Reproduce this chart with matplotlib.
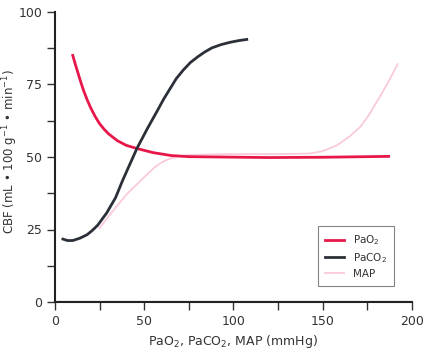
import matplotlib
matplotlib.use("Agg")
import matplotlib.pyplot as plt

# values
pao2_x = [10, 11.5, 13, 14.5, 16, 18, 20, 22.5, 25, 27.5, 30, 35, 40, 46, 55, 65, 75, 90, 120, 150, 187]
pao2_y = [85, 81.8, 78.8, 75.8, 73, 69.8, 67, 64, 61.5, 59.6, 58, 55.6, 54, 52.9, 51.5, 50.5, 50.1, 50, 49.8, 49.9, 50.2]

paco2_x = [4.5, 7, 10, 14, 18, 21, 24, 29, 34, 38, 42, 46, 52, 57, 61, 64, 68, 72, 76, 80, 84, 88, 93, 98, 103, 107.5]
paco2_y = [21.7, 21.2, 21.2, 22, 23.2, 24.7, 26.5, 30.7, 36, 42, 47.5, 53, 60, 65.5, 70, 73, 77, 80, 82.6, 84.5, 86.2, 87.6, 88.7, 89.5, 90.1, 90.5]

map_x = [25, 30, 40, 50, 56, 59, 62, 65, 68, 75, 100, 130, 143, 150, 158, 165, 171, 176, 182, 187, 192]
map_y = [25.5, 29.5, 37, 43, 46.5, 47.8, 48.8, 49.5, 50, 50.7, 51, 51, 51.2, 52, 54, 57, 60.3, 64.5, 70.7, 76, 82]

fig = plt.figure(figsize=(4.29, 3.6), dpi=100)
ax = fig.add_axes([0.128, 0.161, 0.832, 0.806])

ax.plot(map_x, map_y, color="#f9cadc", lw=1.3, label="MAP", zorder=2)
ax.plot(pao2_x, pao2_y, color="#e8174a", lw=2.0, label="PaO$_2$", zorder=3)
ax.plot(paco2_x, paco2_y, color="#2b3038", lw=2.0, label="PaCO$_2$", zorder=4)

ax.set_xlim(0, 200)
ax.set_ylim(0, 100)
ax.set_xticks([0, 50, 100, 150, 200])
ax.set_xticks([25, 75, 125, 175], minor=True)
ax.set_yticks([0, 25, 50, 75, 100])
ax.set_yticks([12.5, 37.5, 62.5, 87.5], minor=True)
ax.tick_params(which="both", direction="out", length=6, width=1, colors="#333333",
               labelsize=9, labelcolor="#333333", pad=3)
ax.axhline(0, color="#222222", lw=1.5, zorder=1)

for s in ["top", "right"]:
    ax.spines[s].set_visible(False)
ax.spines["left"].set_linewidth(1.5)
ax.spines["bottom"].set_linewidth(1.5)
ax.spines["left"].set_color("#222222")
ax.spines["bottom"].set_color("#222222")

ax.set_xlabel("PaO$_2$, PaCO$_2$, MAP (mmHg)", fontsize=9, color="#333333", labelpad=4)
ax.set_ylabel("CBF (mL • 100 g$^{-1}$ • min$^{-1}$)", fontsize=8.5, color="#333333")
ax.yaxis.set_label_coords(-0.098, 0.52)

h, l = ax.get_legend_handles_labels()
order = [1, 2, 0]
leg = ax.legend([h[i] for i in order], [l[i] for i in order], loc="lower right",
                bbox_to_anchor=(0.966, 0.038), fontsize=7.5, frameon=True, fancybox=False,
                edgecolor="#666666", handlelength=1.8, borderpad=0.7, labelspacing=0.35,
                handletextpad=0.9)
leg.get_frame().set_linewidth(0.8)
for t in leg.get_texts():
    t.set_color("#333333")

fig.savefig("out.png", dpi=100)
